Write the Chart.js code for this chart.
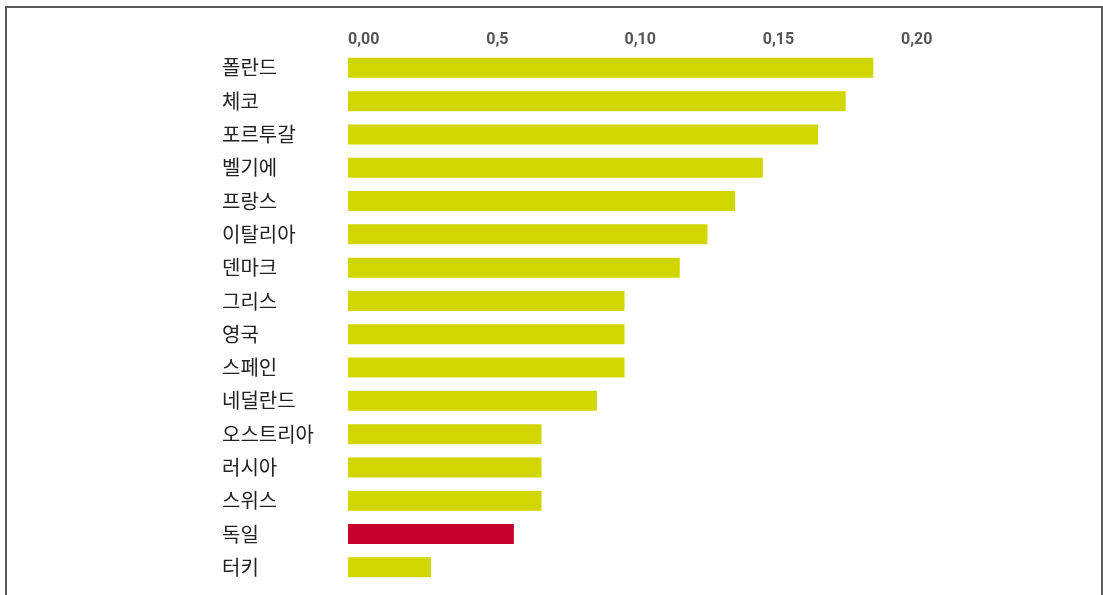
<!DOCTYPE html>
<html>
<head>
<meta charset="utf-8">
<script src="https://cdn.jsdelivr.net/npm/chart.js@4"></script>
<style>
  body { margin: 0; background: #fff; }
  #frame { position: absolute; left: 5px; top: 6px; width: 1094px; height: 700px; border: 2px solid #5a5a5a; }
  #wrap { position: absolute; left: 0; top: 0; width: 1103px; height: 595px; }
</style>
</head>
<body>
<div id="frame"></div>
<div id="wrap"><canvas id="shareChart" width="1103" height="595"></canvas></div>
<script>
// 국가별 값
const countries = ['폴란드', '체코', '포르투갈', '벨기에', '프랑스', '이탈리아', '덴마크', '그리스',
                   '영국', '스페인', '네덜란드', '오스트리아', '러시아', '스위스', '독일', '터키'];
const values = [0.19, 0.18, 0.17, 0.15, 0.14, 0.13, 0.12, 0.10,
                0.10, 0.10, 0.09, 0.07, 0.07, 0.07, 0.06, 0.03];
const tickLabels = ['0,00', '0,5', '0,10', '0,15', '0,20'];
const highlight = '독일';

document.addEventListener('DOMContentLoaded', function () {

    const colors = countries.map(c => c === highlight ? '#c8002f' : '#d2d600');

    const data = {
        labels: countries,
        datasets: [{
            data: values,
            backgroundColor: colors,
            borderWidth: 0,
            barPercentage: 0.6,
            categoryPercentage: 1.0
        }]
    };

    const config = {
        type: 'bar',
        data: data,
        options: {
            indexAxis: 'y',
            responsive: false,
            animation: false,
            layout: { padding: { left: 222, right: 202, top: 28, bottom: 11 } },
            scales: {
                x: {
                    position: 'top',
                    min: 0,
                    max: 0.2,
                    grid: { display: false, drawTicks: false },
                    border: { display: false },
                    ticks: {
                        stepSize: 0.05,
                        align: 'start',
                        padding: 2,
                        color: '#555',
                        font: { family: 'Roboto, sans-serif', size: 16, weight: 'bold' },
                        callback: (v, i) => tickLabels[i]
                    }
                },
                y: {
                    grid: { display: false, drawTicks: false },
                    border: { display: false },
                    afterFit: scale => {
                        scale.width = 126;
                        scale.paddingTop = 0;
                        scale.paddingBottom = 0;
                    },
                    ticks: {
                        crossAlign: 'far',
                        color: '#222',
                        font: { family: '"Noto Sans CJK KR", sans-serif', size: 20 }
                    }
                }
            },
            plugins: { legend: { display: false }, tooltip: { enabled: false } }
        }
    };

    new Chart(document.getElementById('shareChart'), config);
});
</script>
</body>
</html>
